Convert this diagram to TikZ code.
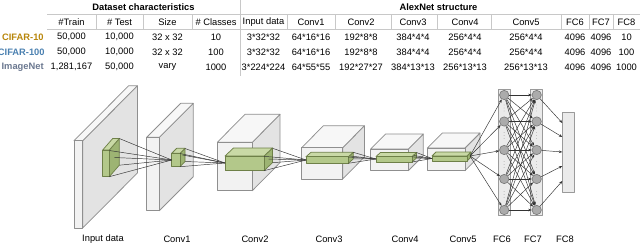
\documentclass[tikz,border=0pt]{standalone}
\usepackage{fontspec}
\setmainfont{Liberation Sans}
\usetikzlibrary{arrows.meta}
\definecolor{cifarA}{HTML}{B8860B}
\definecolor{cifarB}{HTML}{4A80B0}
\definecolor{imgnet}{HTML}{6B7890}
\definecolor{tline}{HTML}{C8C8C8}
\definecolor{gedge}{HTML}{8F8F8F}
\definecolor{gfront}{HTML}{F2F2F2}
\definecolor{gtop}{HTML}{F7F7F7}
\definecolor{gright}{HTML}{E3E3E3}
\definecolor{kedge}{HTML}{6E8048}
\definecolor{kfront}{HTML}{B3C88A}
\definecolor{ktop}{HTML}{C9D9A6}
\definecolor{kright}{HTML}{9DB473}
\definecolor{barfill}{HTML}{EBEBEB}
\definecolor{baredge}{HTML}{9A9A9A}
\definecolor{nodefill}{HTML}{ABABAB}
\definecolor{nodeedge}{HTML}{7A7A7A}
\definecolor{wire}{HTML}{333333}
% x y w h dx dy(up) colour-prefix
\newcommand{\layercube}[7]{%
  \filldraw[draw=#7edge, fill=#7right] ({#1+#3},{#2}) -- ({#1+#3+#5},{#2-#6}) -- ({#1+#3+#5},{#2+#4-#6}) -- ({#1+#3},{#2+#4}) -- cycle;
  \filldraw[draw=#7edge, fill=#7top] ({#1},{#2}) -- ({#1+#5},{#2-#6}) -- ({#1+#3+#5},{#2-#6}) -- ({#1+#3},{#2}) -- cycle;
  \filldraw[draw=#7edge, fill=#7front] ({#1},{#2}) rectangle ({#1+#3},{#2+#4});
}
\tikzset{
  txt/.style={font=\fontsize{7}{8}\selectfont, inner sep=0pt, anchor=center},
  ttl/.style={font=\bfseries\fontsize{7}{8}\selectfont, inner sep=0pt, anchor=center},
  rowlbl/.style={font=\bfseries\fontsize{7}{8}\selectfont, inner sep=0pt, anchor=east},
  tab/.style={draw=tline, line width=0.45pt},
  conn/.style={draw=wire, line width=0.35pt},
  arr/.style={draw=wire, line width=0.35pt, -{Stealth[length=2.6pt,width=2pt]}},
  bar/.style={draw=baredge, fill=barfill, line width=0.5pt},
  neuron/.style={circle, draw=nodeedge, fill=nodefill, line width=0.5pt, minimum size=7pt, inner sep=0pt},
}
\begin{document}
\begin{tikzpicture}[x=0.75pt,y=-0.75pt, line join=round, line width=0.55pt]
\useasboundingbox (0,0) rectangle (640,244);

% ---------------- table ----------------
\draw[tab] (47,14) -- (640,14);
\draw[tab] (47,29) -- (640,29);
\draw[tab] (240,0) -- (240,76);
\foreach \vx in {96,143,192,287,335,391,437,491,561,589,613}
  \draw[tab] (\vx,14) -- (\vx,29);

\node[ttl] (tds) at (143.5,7) {Dataset characteristics};
\node[ttl] (tan) at (438.5,7) {AlexNet structure};

\node[rowlbl, text=cifarA] (lc10) at (44,37) {CIFAR-10};
\node[rowlbl, text=cifarB] (lc100) at (45,52) {CIFAR-100};
\node[rowlbl, text=imgnet] (lin) at (44,67) {ImageNet};

\def\colx{{71.5,119.5,167.5,216,263.5,311,361,413,465,526,575,601,626.5}}
\foreach \t [count=\i from 0] in {\#Train,\# Test,Size,\# Classes,Input data,Conv1,Conv2,Conv3,Conv4,Conv5,FC6,FC7,FC8}
  \node[txt] (h\i) at ({\colx[\i]},22) {\t};
\foreach \t [count=\i from 0] in {{50,000},{10,000},{32 x 32},{10},{3*32*32},{64*16*16},{192*8*8},{384*4*4},{256*4*4},{256*4*4},{4096},{4096},{10}}
  \node[txt] (ra\i) at ({\colx[\i]},37) {\t};
\foreach \t [count=\i from 0] in {{50,000},{10,000},{32 x 32},{100},{3*32*32},{64*16*16},{192*8*8},{384*4*4},{256*4*4},{256*4*4},{4096},{4096},{100}}
  \node[txt] (rb\i) at ({\colx[\i]},52) {\t};
\foreach \t [count=\i from 0] in {{1,281,167},{50,000},{vary},{1000},{3*224*224},{64*55*55},{192*27*27},{384*13*13},{256*13*13},{256*13*13},{4096},{4096},{1000}}
  \node[txt] (rc\i) at ({\colx[\i]},67) {\t};

% ---------------- layers ----------------
\layercube{74}{140.7}{8.7}{87.3}{54.7}{55}{g}
\layercube{102.7}{150}{6.6}{26.7}{10}{11.5}{k}
\layercube{146.7}{137.3}{12.6}{73.4}{34}{34}{g}
\layercube{171.7}{153.3}{8.3}{13.4}{5}{5}{k}
\layercube{217.3}{142.3}{35}{48.4}{27.7}{28}{g}
\layercube{225}{156}{39}{14.7}{8.5}{8}{k}
\layercube{301.7}{147.7}{41}{31.3}{21.7}{22}{g}
\layercube{306}{156.7}{42.3}{6.6}{5}{4.4}{k}
\layercube{370.7}{149}{37.6}{21.7}{15}{15}{g}
\layercube{376}{156.5}{36}{5.5}{4.5}{4}{k}
\layercube{427.3}{148}{37.7}{22.7}{15}{15}{g}
\layercube{432}{156}{35}{5}{4}{4}{k}

% convergence points
\coordinate (A1) at (171.7,160);
\coordinate (A2) at (225,163);
\coordinate (A3) at (306,160);
\coordinate (A4) at (376,159);
\coordinate (A5) at (432,158.5);
\coordinate (A6) at (470,156);

% kernel corner points
\coordinate (k0a) at (119.3,138.5); \coordinate (k0b) at (114.3,157.5);
\coordinate (k0c) at (119.3,165.2); \coordinate (k0d) at (109.3,150.5);
\coordinate (k0e) at (109.3,176.7);
\coordinate (k1a) at (185,148.5); \coordinate (k1b) at (182.5,155);
\coordinate (k1c) at (185,161.5); \coordinate (k1d) at (180,153.5);
\coordinate (k1e) at (180,166.7);
\coordinate (k2a) at (272.7,148.3); \coordinate (k2b) at (268.5,159);
\coordinate (k2c) at (272.7,162.7); \coordinate (k2d) at (264,156.3);
\coordinate (k2e) at (264,170.7);
\coordinate (k3a) at (353.3,152.3); \coordinate (k3b) at (350.5,156);
\coordinate (k3c) at (353.3,158.9); \coordinate (k3d) at (348.3,157);
\coordinate (k3e) at (348.3,163.3);
\coordinate (k4a) at (416.5,152.5); \coordinate (k4b) at (414,155.5);
\coordinate (k4c) at (416.5,158); \coordinate (k4d) at (412,156.8);
\coordinate (k4e) at (412,162);

\foreach \s in {a,b,c,d,e} {
  \draw[conn] (k0\s) -- (A1);
  \draw[conn] (k1\s) -- (A2);
  \draw[conn] (k2\s) -- (A3);
  \draw[conn] (k3\s) -- (A4);
  \draw[conn] (k4\s) -- (A5);
}

% ---------------- fully connected ----------------
\node[bar, minimum width=8.8pt, minimum height=95pt, inner sep=0pt] (fc6) at (504.2,152.3) {};
\node[bar, minimum width=8.8pt, minimum height=95pt, inner sep=0pt] (fc7) at (536.5,152.3) {};
\node[bar, minimum width=8.8pt, minimum height=60pt, inner sep=0pt] (fc8) at (568.2,152.4) {};

\foreach \dy in {108,135.5,164.5,194.5} {
  \foreach \cx in {504.2,536.5}
    \foreach \o in {-3,0,3}
      \fill[nodeedge!60] (\cx,\dy+\o) circle (0.35pt);
}

\foreach \ny [count=\i] in {95,121.5,150,179,210} {
  \node[neuron] (f6n\i) at (504.2,\ny) {};
  \node[neuron] (f7n\i) at (536.7,\ny) {};
}
\foreach \py [count=\i] in {123,137,152,166,181}
  \coordinate (f8p\i) at (562.3,\py);

\foreach \i in {1,...,5} {
  \draw[arr] (A6) -- (f6n\i);
  \draw[arr] (f7n\i) -- (f8p\i);
  \foreach \j in {1,...,5}
    \draw[arr] (f6n\i) -- (f7n\j);
}

% ---------------- labels ----------------
\foreach \t/\lx [count=\i] in {Input data/103,Conv1/177,Conv2/255,Conv3/329,Conv4/405,Conv5/463,FC6/502,FC7/533,FC8/565}
  \node[txt] (lab\i) at (\lx,239.5) {\t};
\end{tikzpicture}
\end{document}
